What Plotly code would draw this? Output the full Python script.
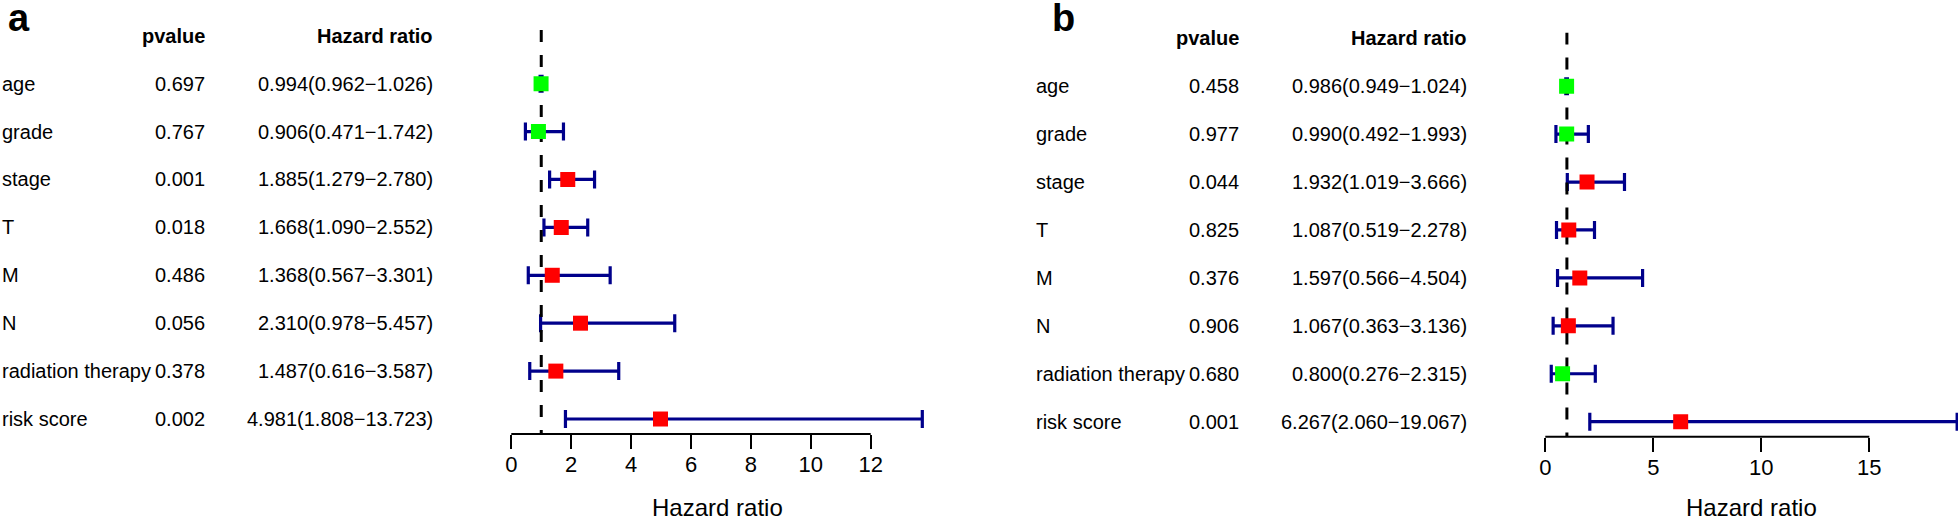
import plotly.graph_objects as go

W, H = 1958, 520
FONT = "Liberation Sans, Arial, sans-serif"

# ---- data -------------------------------------------------------------
variables = ['age', 'grade', 'stage', 'T', 'M', 'N', 'radiation therapy', 'risk score']

a_pvalue = [0.697, 0.767, 0.001, 0.018, 0.486, 0.056, 0.378, 0.002]
a_hr = [0.994, 0.906, 1.885, 1.668, 1.368, 2.310, 1.487, 4.981]
a_low = [0.962, 0.471, 1.279, 1.090, 0.567, 0.978, 0.616, 1.808]
a_high = [1.026, 1.742, 2.780, 2.552, 3.301, 5.457, 3.587, 13.723]
a_ticks = [0, 2, 4, 6, 8, 10, 12]

b_pvalue = [0.458, 0.977, 0.044, 0.825, 0.376, 0.906, 0.680, 0.001]
b_hr = [0.986, 0.990, 1.932, 1.087, 1.597, 1.067, 0.800, 6.267]
b_low = [0.949, 0.492, 1.019, 0.519, 0.566, 0.363, 0.276, 2.060]
b_high = [1.024, 1.993, 3.666, 2.278, 4.504, 3.136, 2.315, 19.067]
b_ticks = [0, 5, 10, 15]

REF_HR = 1

# ---- layout helpers (pixel geometry) -------------------------------------
n = len(variables)
rows = list(range(n, 0, -1))          # top row = n, bottom row = 1
Y_RANGE = [0.687, 9.12]


def px(x):
    return x / W


def py(y):
    return 1 - y / H


panels = [
    dict(key='', letter='a', pv=a_pvalue, hr=a_hr, lo=a_low, hi=a_high, ticks=a_ticks,
         zero=511.3, scale=29.95, xr=[-0.6, 14.3], ytop=30, ybot=434,
         lab_x=0, pv_x=207, hrt_x=435, letter_x=6, title_x=717),
    dict(key='2', letter='b', pv=b_pvalue, hr=b_hr, lo=b_low, hi=b_high, ticks=b_ticks,
         zero=1545.3, scale=21.6, xr=[-0.6, 19.106], ytop=32.5, ybot=436.7,
         lab_x=1034, pv_x=1240.7, hrt_x=1469, letter_x=1050, title_x=1751.7),
]

fig = go.Figure()
annotations = []
shapes = []

for p in panels:
    xa = 'x' + p['key']
    ya = 'y' + p['key']
    colors = ['#FF0000' if h > REF_HR else '#00FF00' for h in p['hr']]

    # confidence intervals
    fig.add_trace(go.Scatter(
        x=p['hr'], y=rows, xaxis=xa, yaxis=ya, mode='markers',
        marker=dict(size=1, color='rgba(0,0,0,0)'),
        error_x=dict(type='data', symmetric=False,
                     array=[h - m for h, m in zip(p['hi'], p['hr'])],
                     arrayminus=[m - l for m, l in zip(p['hr'], p['lo'])],
                     color='#00008B', thickness=3.2, width=9),
        showlegend=False, hoverinfo='skip'))

    # reference line at HR = 1
    fig.add_trace(go.Scatter(
        x=[REF_HR, REF_HR], y=[Y_RANGE[1], Y_RANGE[0]], xaxis=xa, yaxis=ya,
        mode='lines', line=dict(color='black', width=3, dash='12px,13px'),
        showlegend=False, hoverinfo='skip'))

    # point estimates
    fig.add_trace(go.Scatter(
        x=p['hr'], y=rows, xaxis=xa, yaxis=ya, mode='markers',
        marker=dict(symbol='square', size=15, color=colors, line=dict(width=0)),
        showlegend=False))

    # axis line only between first and last tick (R style)
    shapes.append(dict(type='line', xref=xa, yref=ya + ' domain',
                       x0=p['ticks'][0], x1=p['ticks'][-1], y0=0, y1=0,
                       line=dict(color='black', width=2)))

    # table text
    tfont = dict(family=FONT, size=20, color='black')
    for r, name, pv, h, l, u in zip(rows, variables, p['pv'], p['hr'], p['lo'], p['hi']):
        annotations.append(dict(x=px(p['lab_x']), xref='paper', y=r, yref=ya,
                                text=name, showarrow=False, xanchor='left',
                                yanchor='middle', font=tfont))
        annotations.append(dict(x=px(p['pv_x']), xref='paper', y=r, yref=ya,
                                text=f'{pv:.3f}', showarrow=False, xanchor='right',
                                yanchor='middle', font=tfont))
        annotations.append(dict(x=px(p['hrt_x']), xref='paper', y=r, yref=ya,
                                text=f'{h:.3f}({l:.3f}\u2212{u:.3f})', showarrow=False,
                                xanchor='right', yanchor='middle', font=tfont))
    annotations.append(dict(x=px(p['pv_x']), xref='paper', y=n + 1, yref=ya,
                            text='<b>pvalue</b>', showarrow=False, xanchor='right',
                            yanchor='middle', font=tfont))
    annotations.append(dict(x=px(p['hrt_x']), xref='paper', y=n + 1, yref=ya,
                            text='<b>Hazard ratio</b>', showarrow=False, xanchor='right',
                            yanchor='middle', font=tfont))
    annotations.append(dict(x=px(p['letter_x']), xref='paper', y=py(-5), yref='paper',
                            text=f"<b>{p['letter']}</b>", showarrow=False, xanchor='left',
                            yanchor='top', font=dict(family=FONT, size=38, color='black')))
    annotations.append(dict(x=px(p['title_x']), xref='paper', y=py(507), yref='paper',
                            text='Hazard ratio', showarrow=False, xanchor='center',
                            yanchor='middle', font=dict(family=FONT, size=24, color='black')))

    dom_x = [px(p['zero'] + p['xr'][0] * p['scale']),
             min(1.0, px(p['zero'] + p['xr'][1] * p['scale']))]
    dom_y = [py(p['ybot']), py(p['ytop'])]
    fig.update_layout({
        'xaxis' + p['key']: dict(domain=dom_x, range=p['xr'], anchor=ya, automargin=False,
                                 tickvals=p['ticks'], ticks='outside', ticklen=14,
                                 tickwidth=2, tickcolor='black', showline=False,
                                 showgrid=False, zeroline=False, ticklabelstandoff=-3,
                                 tickfont=dict(family=FONT, size=22, color='black')),
        'yaxis' + p['key']: dict(domain=dom_y, range=Y_RANGE, anchor=xa, automargin=False,
                                 visible=False, showgrid=False, zeroline=False),
    })

fig.update_layout(
    width=W, height=H,
    margin=dict(l=0, r=0, t=0, b=0, autoexpand=False),
    paper_bgcolor='white', plot_bgcolor='white',
    annotations=annotations, shapes=shapes,
    font=dict(family=FONT, color='black'),
    showlegend=False,
)

fig.write_html("out.html", config={'displayModeBar': False},
               post_script="document.body.style.margin='0px';document.body.style.overflow='hidden';")
